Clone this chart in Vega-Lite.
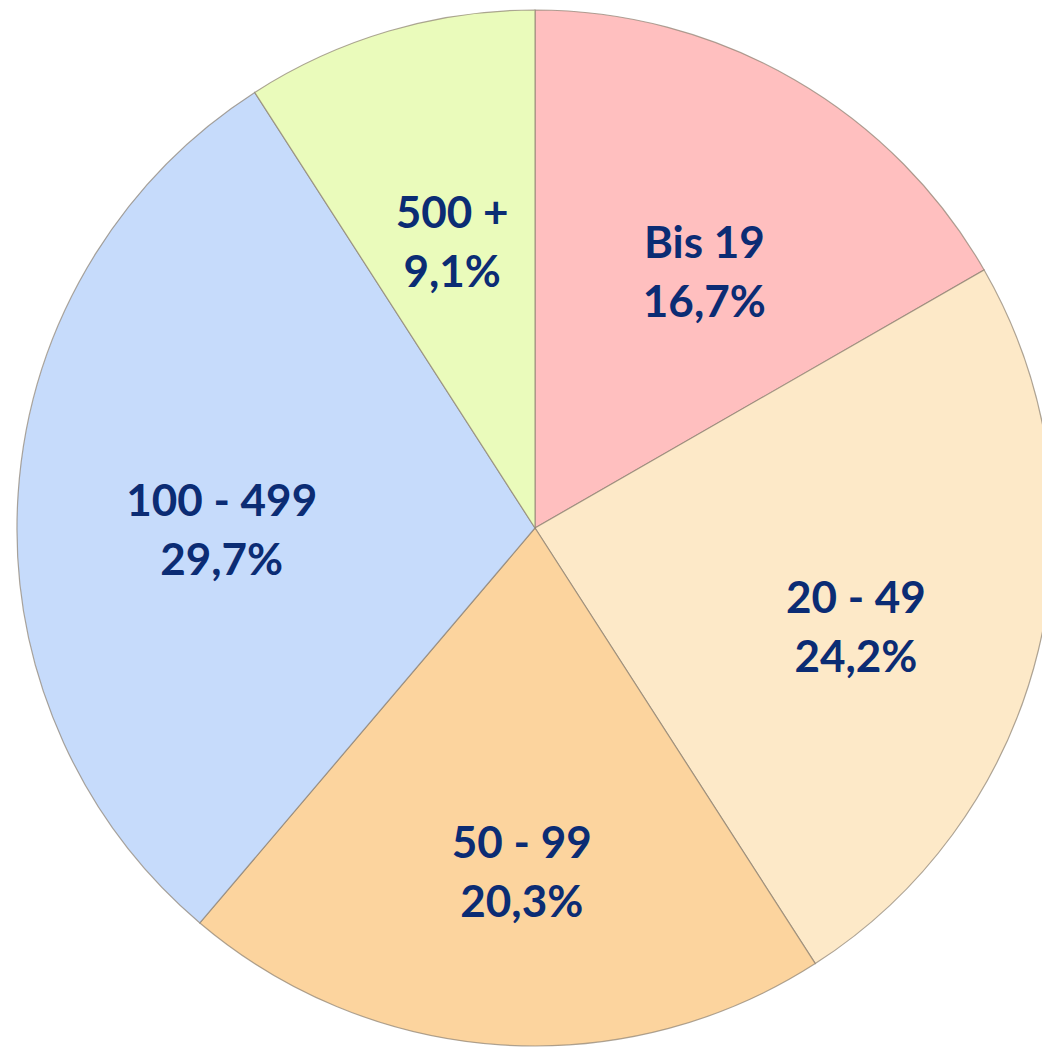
{
  "$schema": "https://vega.github.io/schema/vega-lite/v6.json",
  "autosize": {"type": "fit", "contains": "padding"},
  "width": 1042,
  "height": 1048,
  "padding": {"left": 28, "top": 8, "right": 0, "bottom": 0},
  "background": "white",
  "config": {"view": {"stroke": null}},
  "data": {
    "values": [
      {"category": "Bis 19", "share": 16.7, "order": 1, "label": "Bis 19\n16,7%"},
      {"category": "20 - 49", "share": 24.2, "order": 2, "label": "20 - 49\n24,2%"},
      {"category": "50 - 99", "share": 20.3, "order": 3, "label": "50 - 99\n20,3%"},
      {"category": "100 - 499", "share": 29.7, "order": 4, "label": "100 - 499\n29,7%"},
      {"category": "500 +", "share": 9.1, "order": 5, "label": "500 +\n9,1%"}
    ]
  },
  "encoding": {
    "theta": {"field": "share", "type": "quantitative", "stack": true},
    "order": {"field": "order", "type": "quantitative"}
  },
  "layer": [
    {
      "mark": {"type": "arc", "outerRadius": 518, "stroke": "#8c8070", "strokeWidth": 1.2, "strokeOpacity": 0.7},
      "encoding": {
        "color": {
          "field": "category",
          "type": "nominal",
          "scale": {
            "domain": ["Bis 19", "20 - 49", "50 - 99", "100 - 499", "500 +"],
            "range": ["#FFBFBF", "#FDE9C8", "#FCD49E", "#C6DBFB", "#EAFBBB"]
          },
          "legend": null
        }
      }
    },
    {
      "mark": {"type": "text", "radius": 322, "dx": 8, "dy": -4, "font": "Lato", "fontWeight": "bold", "fontSize": 44, "lineBreak": "\n", "lineHeight": 59, "align": "center", "baseline": "middle", "color": "#0B2C74"},
      "encoding": {
        "text": {"field": "label", "type": "nominal"}
      }
    }
  ]
}
